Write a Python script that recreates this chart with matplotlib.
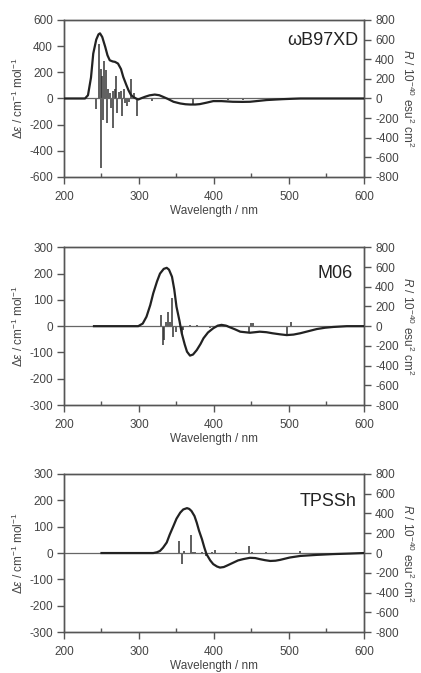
import numpy as np
import matplotlib
matplotlib.use("Agg")
import matplotlib.pyplot as plt

plt.rcParams['font.family'] = ['Liberation Sans', 'DejaVu Sans']
plt.rcParams['mathtext.fontset'] = 'custom'
plt.rcParams['mathtext.rm'] = 'Liberation Sans'
plt.rcParams['mathtext.it'] = 'Liberation Sans:italic'
plt.rcParams['axes.unicode_minus'] = False

# ---- panel 1: wB97XD ----
wl1 = [200, 228, 232, 236, 239, 243, 246, 248, 251, 255, 258, 261, 265, 268, 272, 276, 279,
       283, 286, 289, 292, 296, 299, 303, 308, 314, 321, 327, 332, 338, 346, 355, 362, 368,
       375, 381, 390, 399, 410, 425, 438, 448, 460, 470, 482, 492, 505, 515, 600]
de1 = [0, 0, 25, 160, 343, 450, 490, 498, 470, 394, 330, 292, 283, 280, 267, 225, 165,
       105, 63, 30, 13, 0, -8, 2, 13, 24, 30, 25, 13, -2, -25, -38, -44, -46,
       -46, -43, -32, -20, -20, -25, -26, -25, -18, -12, -8, -5, -2, 0, 0]
st_wl1 = [243, 247, 249, 250, 251, 252, 254, 256, 257, 259, 261, 263, 265, 266, 268, 269,
          271, 274, 276, 278, 280, 282, 284, 287, 290, 293, 297, 318, 372, 419, 439]
st_r1 = [-105, 560, 300, -710, 230, -220, 380, 290, -250, 100, 60, -100, -300, 80, 100, 230,
         -150, 70, 80, -180, 100, -50, -80, -40, 200, 60, -180, -25, -55, -20, -20]

# ---- panel 2: M06 ----
wl2 = [240, 290, 299, 305, 310, 315, 319, 324, 328, 333, 337, 340, 344, 347, 350, 354, 357,
       361, 364, 368, 372, 377, 382, 386, 392, 399, 405, 410, 416, 421, 428, 435, 448, 461,
       470, 478, 488, 497, 506, 515, 526, 537, 548, 559, 577, 600]
de2 = [0, 0, 0, 10, 36, 80, 125, 170, 200, 218, 222, 215, 188, 140, 74, 20, -27,
       -70, -97, -112, -108, -91, -68, -46, -24, -8, 2, 5, 2, -4, -12, -21, -25, -21,
       -23, -27, -31, -34, -32, -27, -19, -11, -6, -3, 0, 0]
st_wl2 = [330, 331.6, 333.8, 336, 339, 341, 343.6, 345.8, 349, 357, 359, 368, 378, 388, 395,
          408, 418, 447, 449, 452, 497, 503, 523]
st_r2 = [112, -193, -142, 44, 145, 40, 281, -108, -60, -91, -40, 8, 8, 6, -20,
         15, 8, -57, 34, 28, -91, 44, 6]

# ---- panel 3: TPSSh ----
wl3 = [250, 310, 319, 324, 328, 332, 337, 341, 346, 350, 355, 359, 364, 367, 370, 374, 377,
       380, 384, 387, 390, 395, 399, 404, 408, 413, 417, 426, 432, 439, 448, 455, 461, 468,
       475, 482, 488, 501, 515, 537, 559, 581, 600]
de3 = [0, 0, 0, 3, 8, 20, 40, 70, 103, 130, 153, 165, 170, 167, 159, 140, 115,
       85, 52, 22, -4, -28, -42, -51, -55, -53, -48, -36, -28, -23, -18, -19, -23, -27,
       -30, -29, -26, -17, -11, -7, -4, -2, 0]
st_wl3 = [353, 358, 360, 362, 370, 372, 375, 378, 384, 390, 397, 402, 405, 412, 420, 430,
          440, 447, 451, 455, 470, 475, 490, 505, 515, 533]
st_r3 = [124, -111, 17, -10, 184, 12, 15, -8, 8, -34, 8, 34, -10, -8, -6, 6,
         -8, 67, 10, -6, 6, -5, 5, -4, 17, -5]

panels = [
    ("\u03c9B97XD", wl1, de1, st_wl1, st_r1, (-600, 600), [-600, -400, -200, 0, 200, 400, 600],
     [0.152, 0.737, 0.7126, 0.2333], (0.98, 0.87)),
    ("M06", wl2, de2, st_wl2, st_r2, (-300, 300), [-300, -200, -100, 0, 100, 200, 300],
     [0.152, 0.3982, 0.7126, 0.2343], (0.962, 0.837)),
    ("TPSSh", wl3, de3, st_wl3, st_r3, (-300, 300), [-300, -200, -100, 0, 100, 200, 300],
     [0.152, 0.0605, 0.7126, 0.2355], (0.975, 0.828)),
]

tc = '#444444'
sc = '#555555'
fig = plt.figure(figsize=(4.21, 6.73), dpi=100)

for name, wl, de, swl, sr, ylim, yt, pos, tpos in panels:
    ax = fig.add_axes(pos)
    ax2 = ax.twinx()
    ax.set_xlim(200, 600)
    ax.set_ylim(*ylim)
    ax.set_yticks(yt)
    ax.set_xticks([200, 300, 400, 500, 600])
    ax.set_xticks([250, 350, 450, 550], minor=True)
    ax2.set_ylim(-800, 800)
    ax2.set_yticks([-800, -600, -400, -200, 0, 200, 400, 600, 800])

    ax.axhline(0, color='#666666', lw=0.9, zorder=1)
    ax2.vlines(swl, 0, sr, color='#333333', lw=1.1, zorder=2)
    ax.plot(wl, de, color='#222222', lw=1.6, zorder=3)
    ax.set_zorder(ax2.get_zorder() + 1)
    ax.patch.set_visible(False)

    for a in (ax, ax2):
        for s in a.spines.values():
            s.set_color(sc)
            s.set_linewidth(1.0)
    ax.tick_params(axis='x', which='major', direction='out', length=5, width=1, color=sc,
                   labelsize=8.5, labelcolor=tc, pad=5)
    ax.tick_params(axis='x', which='minor', direction='in', length=3, width=1, color=sc)
    ax.tick_params(axis='y', direction='out', length=5, width=1, color=sc,
                   labelsize=8.5, labelcolor=tc, pad=3)
    ax2.tick_params(axis='y', direction='out', length=5, width=1, color=sc,
                    labelsize=8.5, labelcolor=tc, pad=3)

    ax.set_xlabel('Wavelength / nm', fontsize=8.5, color=tc, labelpad=1.5)
    ax.set_ylabel(r'$\Delta\varepsilon$ / cm$^{-1}$ mol$^{-1}$', fontsize=8.5, color=tc, labelpad=2)
    ax2.set_ylabel(r'$R$ / 10$^{-40}$ esu$^2$ cm$^2$', fontsize=8.5, color=tc,
                   rotation=270, labelpad=12)
    ax.text(tpos[0], tpos[1], name, transform=ax.transAxes, ha='right', va='center',
            fontsize=13, color='#222222')

fig.savefig('out.png', dpi=100)
